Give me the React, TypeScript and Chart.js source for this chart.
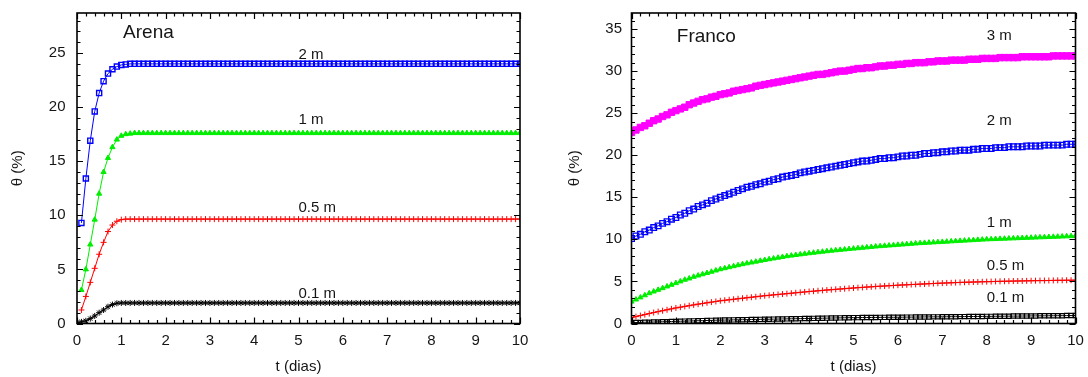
import React, { useEffect, useRef } from "react";
import { Chart, registerables } from "chart.js";
Chart.register(...registerables);

// time axis (dias)
const T = [
  0, 0.1, 0.2, 0.3, 0.4, 0.5, 0.6, 0.7, 0.8, 0.9,
  1, 1.1, 1.2, 1.3, 1.4, 1.5, 1.6, 1.7, 1.8, 1.9,
  2, 2.1, 2.2, 2.3, 2.4, 2.5, 2.6, 2.7, 2.8, 2.9,
  3, 3.1, 3.2, 3.3, 3.4, 3.5, 3.6, 3.7, 3.8, 3.9,
  4, 4.1, 4.2, 4.3, 4.4, 4.5, 4.6, 4.7, 4.8, 4.9,
  5, 5.1, 5.2, 5.3, 5.4, 5.5, 5.6, 5.7, 5.8, 5.9,
  6, 6.1, 6.2, 6.3, 6.4, 6.5, 6.6, 6.7, 6.8, 6.9,
  7, 7.1, 7.2, 7.3, 7.4, 7.5, 7.6, 7.7, 7.8, 7.9,
  8, 8.1, 8.2, 8.3, 8.4, 8.5, 8.6, 8.7, 8.8, 8.9,
  9, 9.1, 9.2, 9.3, 9.4, 9.5, 9.6, 9.7, 9.8, 9.9,
  10,
];

const xTicks = [0, 1, 2, 3, 4, 5, 6, 7, 8, 9, 10];
const arenaYTicks = [0, 5, 10, 15, 20, 25];
const francoYTicks = [0, 5, 10, 15, 20, 25, 30, 35];

// ---------- Arena ----------
const arena2m = [
  null, 9.3, 13.4, 16.9, 19.6, 21.3, 22.4, 23.1, 23.5, 23.75,
  23.9, 23.95, 24, 24, 24, 24, 24, 24, 24, 24,
  24, 24, 24, 24, 24, 24, 24, 24, 24, 24,
  24, 24, 24, 24, 24, 24, 24, 24, 24, 24,
  24, 24, 24, 24, 24, 24, 24, 24, 24, 24,
  24, 24, 24, 24, 24, 24, 24, 24, 24, 24,
  24, 24, 24, 24, 24, 24, 24, 24, 24, 24,
  24, 24, 24, 24, 24, 24, 24, 24, 24, 24,
  24, 24, 24, 24, 24, 24, 24, 24, 24, 24,
  24, 24, 24, 24, 24, 24, 24, 24, 24, 24,
  24,
];
const arena1m = [
  null, 3.1, 5.0, 7.3, 9.6, 12.0, 14.0, 15.3, 16.3, 17.0,
  17.35, 17.5, 17.55, 17.6, 17.6, 17.6, 17.6, 17.6, 17.6, 17.6,
  17.6, 17.6, 17.6, 17.6, 17.6, 17.6, 17.6, 17.6, 17.6, 17.6,
  17.6, 17.6, 17.6, 17.6, 17.6, 17.6, 17.6, 17.6, 17.6, 17.6,
  17.6, 17.6, 17.6, 17.6, 17.6, 17.6, 17.6, 17.6, 17.6, 17.6,
  17.6, 17.6, 17.6, 17.6, 17.6, 17.6, 17.6, 17.6, 17.6, 17.6,
  17.6, 17.6, 17.6, 17.6, 17.6, 17.6, 17.6, 17.6, 17.6, 17.6,
  17.6, 17.6, 17.6, 17.6, 17.6, 17.6, 17.6, 17.6, 17.6, 17.6,
  17.6, 17.6, 17.6, 17.6, 17.6, 17.6, 17.6, 17.6, 17.6, 17.6,
  17.6, 17.6, 17.6, 17.6, 17.6, 17.6, 17.6, 17.6, 17.6, 17.6,
  17.6,
];
const arena05m = [
  null, 1.25, 2.5, 3.8, 5.1, 6.4, 7.5, 8.5, 9.1, 9.45,
  9.6, 9.65, 9.65, 9.65, 9.65, 9.65, 9.65, 9.65, 9.65, 9.65,
  9.65, 9.65, 9.65, 9.65, 9.65, 9.65, 9.65, 9.65, 9.65, 9.65,
  9.65, 9.65, 9.65, 9.65, 9.65, 9.65, 9.65, 9.65, 9.65, 9.65,
  9.65, 9.65, 9.65, 9.65, 9.65, 9.65, 9.65, 9.65, 9.65, 9.65,
  9.65, 9.65, 9.65, 9.65, 9.65, 9.65, 9.65, 9.65, 9.65, 9.65,
  9.65, 9.65, 9.65, 9.65, 9.65, 9.65, 9.65, 9.65, 9.65, 9.65,
  9.65, 9.65, 9.65, 9.65, 9.65, 9.65, 9.65, 9.65, 9.65, 9.65,
  9.65, 9.65, 9.65, 9.65, 9.65, 9.65, 9.65, 9.65, 9.65, 9.65,
  9.65, 9.65, 9.65, 9.65, 9.65, 9.65, 9.65, 9.65, 9.65, 9.65,
  9.65,
];
const arena01m = [
  0.1, 0.15, 0.25, 0.45, 0.7, 1.0, 1.25, 1.55, 1.75, 1.87,
  1.9, 1.9, 1.9, 1.9, 1.9, 1.9, 1.9, 1.9, 1.9, 1.9,
  1.9, 1.9, 1.9, 1.9, 1.9, 1.9, 1.9, 1.9, 1.9, 1.9,
  1.9, 1.9, 1.9, 1.9, 1.9, 1.9, 1.9, 1.9, 1.9, 1.9,
  1.9, 1.9, 1.9, 1.9, 1.9, 1.9, 1.9, 1.9, 1.9, 1.9,
  1.9, 1.9, 1.9, 1.9, 1.9, 1.9, 1.9, 1.9, 1.9, 1.9,
  1.9, 1.9, 1.9, 1.9, 1.9, 1.9, 1.9, 1.9, 1.9, 1.9,
  1.9, 1.9, 1.9, 1.9, 1.9, 1.9, 1.9, 1.9, 1.9, 1.9,
  1.9, 1.9, 1.9, 1.9, 1.9, 1.9, 1.9, 1.9, 1.9, 1.9,
  1.9, 1.9, 1.9, 1.9, 1.9, 1.9, 1.9, 1.9, 1.9, 1.9,
  1.9,
];

// ---------- Franco ----------
const franco3m = [
  22.7, 23.0, 23.3, 23.5, 23.8, 24.1, 24.3, 24.6, 24.8, 25.1,
  25.3, 25.5, 25.7, 26.0, 26.2, 26.4, 26.6, 26.7, 26.9, 27.0,
  27.2, 27.3, 27.4, 27.6, 27.7, 27.8, 27.9, 28.0, 28.2, 28.3,
  28.4, 28.5, 28.6, 28.7, 28.8, 28.9, 29.0, 29.1, 29.2, 29.3,
  29.4, 29.5, 29.6, 29.6, 29.7, 29.8, 29.9, 30.0, 30.0, 30.1,
  30.2, 30.3, 30.3, 30.4, 30.4, 30.5, 30.6, 30.6, 30.7, 30.7,
  30.8, 30.8, 30.9, 30.9, 31.0, 31.0, 31.0, 31.1, 31.1, 31.2,
  31.2, 31.2, 31.3, 31.3, 31.3, 31.3, 31.4, 31.4, 31.4, 31.5,
  31.5, 31.5, 31.5, 31.6, 31.6, 31.6, 31.6, 31.6, 31.7, 31.7,
  31.7, 31.7, 31.7, 31.7, 31.7, 31.8, 31.8, 31.8, 31.8, 31.8,
  31.8,
];
const franco2m = [
  10.1, 10.4, 10.6, 10.9, 11.1, 11.4, 11.6, 11.9, 12.1, 12.4,
  12.6, 12.9, 13.1, 13.4, 13.6, 13.9, 14.1, 14.3, 14.6, 14.8,
  15.0, 15.2, 15.4, 15.6, 15.8, 16.0, 16.2, 16.3, 16.5, 16.6,
  16.8, 16.9, 17.1, 17.2, 17.4, 17.5, 17.6, 17.7, 17.9, 18.0,
  18.1, 18.2, 18.3, 18.4, 18.5, 18.6, 18.7, 18.8, 18.9, 19.0,
  19.1, 19.2, 19.3, 19.3, 19.4, 19.5, 19.6, 19.6, 19.7, 19.7,
  19.8, 19.9, 19.9, 20.0, 20.0, 20.1, 20.2, 20.2, 20.3, 20.3,
  20.4, 20.4, 20.5, 20.5, 20.6, 20.6, 20.6, 20.7, 20.7, 20.8,
  20.8, 20.8, 20.9, 20.9, 20.9, 21.0, 21.0, 21.0, 21.0, 21.1,
  21.1, 21.1, 21.1, 21.2, 21.2, 21.2, 21.2, 21.2, 21.3, 21.3,
  21.3,
];
const franco1m = [
  2.6, 2.85, 3.1, 3.35, 3.6, 3.8, 4.0, 4.2, 4.4, 4.6,
  4.8, 5.0, 5.2, 5.35, 5.55, 5.7, 5.85, 6.0, 6.15, 6.3,
  6.45, 6.57, 6.69, 6.81, 6.93, 7.05, 7.15, 7.25, 7.35, 7.45,
  7.55, 7.64, 7.73, 7.82, 7.91, 8.0, 8.07, 8.14, 8.21, 8.28,
  8.35, 8.41, 8.47, 8.53, 8.59, 8.65, 8.7, 8.75, 8.8, 8.85,
  8.9, 8.95, 9.0, 9.05, 9.1, 9.15, 9.19, 9.23, 9.27, 9.31,
  9.35, 9.39, 9.43, 9.47, 9.51, 9.55, 9.58, 9.61, 9.64, 9.67,
  9.7, 9.73, 9.76, 9.79, 9.82, 9.85, 9.88, 9.91, 9.94, 9.97,
  10.0, 10.02, 10.04, 10.06, 10.08, 10.1, 10.12, 10.14, 10.16, 10.18,
  10.2, 10.22, 10.24, 10.26, 10.28, 10.3, 10.32, 10.34, 10.36, 10.38,
  10.4,
];
const franco05m = [
  0.7, 0.82, 0.94, 1.06, 1.18, 1.3, 1.41, 1.52, 1.63, 1.74,
  1.85, 1.94, 2.03, 2.12, 2.21, 2.3, 2.38, 2.46, 2.54, 2.62,
  2.7, 2.76, 2.82, 2.88, 2.94, 3.0, 3.06, 3.12, 3.18, 3.24,
  3.3, 3.35, 3.4, 3.45, 3.5, 3.55, 3.6, 3.65, 3.7, 3.75,
  3.8, 3.84, 3.89, 3.93, 3.98, 4.02, 4.06, 4.1, 4.14, 4.18,
  4.22, 4.26, 4.29, 4.33, 4.36, 4.4, 4.43, 4.46, 4.49, 4.52,
  4.55, 4.58, 4.6, 4.63, 4.65, 4.68, 4.7, 4.73, 4.75, 4.78,
  4.8, 4.82, 4.84, 4.86, 4.88, 4.9, 4.91, 4.93, 4.94, 4.96,
  4.97, 4.98, 5.0, 5.01, 5.02, 5.03, 5.04, 5.05, 5.06, 5.07,
  5.08, 5.09, 5.1, 5.1, 5.11, 5.12, 5.13, 5.13, 5.14, 5.14,
  5.15,
];
const franco01m = [
  0.1, 0.12, 0.13, 0.15, 0.16, 0.18, 0.19, 0.21, 0.22, 0.24,
  0.25, 0.27, 0.28, 0.3, 0.31, 0.33, 0.34, 0.36, 0.37, 0.39,
  0.4, 0.41, 0.42, 0.43, 0.44, 0.45, 0.46, 0.47, 0.48, 0.49,
  0.5, 0.51, 0.52, 0.53, 0.54, 0.55, 0.56, 0.57, 0.58, 0.59,
  0.6, 0.61, 0.62, 0.63, 0.64, 0.65, 0.66, 0.67, 0.68, 0.69,
  0.7, 0.7, 0.71, 0.71, 0.72, 0.72, 0.73, 0.73, 0.74, 0.74,
  0.75, 0.75, 0.76, 0.76, 0.77, 0.77, 0.78, 0.78, 0.79, 0.79,
  0.8, 0.8, 0.81, 0.81, 0.82, 0.82, 0.83, 0.83, 0.84, 0.84,
  0.85, 0.85, 0.86, 0.86, 0.87, 0.87, 0.88, 0.88, 0.89, 0.89,
  0.9, 0.9, 0.91, 0.91, 0.92, 0.92, 0.93, 0.93, 0.94, 0.94,
  0.95,
];

// text annotations (anchored in data units)
const arenaCurveLabels = [
  { text: "2 m", x: 5, y: 24.8 },
  { text: "1 m", x: 5, y: 18.8 },
  { text: "0.5 m", x: 5, y: 10.7 },
  { text: "0.1 m", x: 5, y: 2.75 },
];
const francoCurveLabels = [
  { text: "3 m", x: 8, y: 34.2 },
  { text: "2 m", x: 8, y: 24.1 },
  { text: "1 m", x: 8, y: 12.0 },
  { text: "0.5 m", x: 8, y: 6.85 },
  { text: "0.1 m", x: 8, y: 3.1 },
];

const FONT = "'Liberation Sans', Arial, Helvetica, sans-serif";
const TEXT = "#151515";

const framePlugin = {
  id: "frame",
  afterDatasetsDraw(chart: any, _a: any, opts: any) {
    const { ctx, chartArea: a, scales } = chart;
    const xs = scales.x, ys = scales.y;
    ctx.save();
    ctx.strokeStyle = "#000";
    ctx.lineWidth = 1.2;
    ctx.beginPath();
    const nx = Math.round((xs.max - xs.min) / opts.xMinor);
    for (let k = 0; k <= nx; k++) {
      const v = xs.min + k * opts.xMinor;
      const px = Math.round(xs.getPixelForValue(v)) + 0.5;
      const len = k % 5 === 0 ? 6 : 3.5;
      ctx.moveTo(px, a.bottom);
      ctx.lineTo(px, a.bottom - len);
      ctx.moveTo(px, a.top);
      ctx.lineTo(px, a.top + len);
    }
    const ny = Math.floor((ys.max - ys.min) / opts.yMinor + 1e-6);
    for (let k = 0; k <= ny; k++) {
      const v = ys.min + k * opts.yMinor;
      const py = Math.round(ys.getPixelForValue(v)) + 0.5;
      const len = k % 5 === 0 ? 6 : 3.5;
      ctx.moveTo(a.left, py);
      ctx.lineTo(a.left + len, py);
      ctx.moveTo(a.right, py);
      ctx.lineTo(a.right - len, py);
    }
    ctx.stroke();
    ctx.lineWidth = 1.6;
    ctx.strokeRect(a.left, a.top, a.right - a.left, a.bottom - a.top);
    ctx.restore();
  },
  afterDraw(chart: any, _a: any, opts: any) {
    const { ctx, scales } = chart;
    const xs = scales.x, ys = scales.y;
    ctx.save();
    ctx.fillStyle = TEXT;
    ctx.textBaseline = "middle";
    ctx.textAlign = "left";
    ctx.font = `19px ${FONT}`;
    ctx.fillText(opts.title.text, xs.getPixelForValue(opts.title.x), ys.getPixelForValue(opts.title.y));
    ctx.font = `15px ${FONT}`;
    for (const l of opts.labels) {
      ctx.fillText(l.text, xs.getPixelForValue(l.x), ys.getPixelForValue(l.y));
    }
    ctx.restore();
  },
};

function ds(label: string, values: (number | null)[], color: string, style: string, radius: number, filled: boolean, pbw = 1) {
  return {
    label,
    data: T.map((t, i) => ({ x: t, y: values[i] })),
    borderColor: color,
    backgroundColor: filled ? color : "rgba(0,0,0,0)",
    pointBorderColor: color,
    pointBackgroundColor: filled ? color : "rgba(0,0,0,0)",
    pointStyle: style,
    pointRadius: radius,
    pointBorderWidth: pbw,
    borderWidth: 1,
    showLine: true,
    tension: 0,
    fill: false,
  };
}

function makeOptions(p: any) {
  return {
    responsive: false,
    animation: false,
    devicePixelRatio: 1,
    events: [],
    layout: { padding: { top: 13, right: p.padRight, left: 0, bottom: 0 } },
    plugins: {
      legend: { display: false },
      tooltip: { enabled: false },
      frame: { xMinor: 0.2, yMinor: 1, title: p.title, labels: p.labels },
    },
    scales: {
      x: {
        type: "linear",
        min: 0,
        max: 10,
        afterBuildTicks: (s: any) => { s.ticks = xTicks.map((v) => ({ value: v })); },
        afterFit: (s: any) => { s.height = 53.5; s.paddingLeft = 0; s.paddingRight = 0; },
        grid: { display: false, drawTicks: false },
        border: { display: false },
        ticks: { padding: 8, color: TEXT, font: { family: FONT, size: 15 }, maxRotation: 0 },
        title: { display: true, text: "t (dias)", color: TEXT, font: { family: FONT, size: 15 }, padding: { top: 0, bottom: 1 } },
      },
      y: {
        type: "linear",
        min: 0,
        max: p.yMax,
        afterBuildTicks: (s: any) => { s.ticks = p.yTicks.map((v: number) => ({ value: v })); },
        afterFit: (s: any) => { s.width = p.yWidth; s.paddingTop = 0; s.paddingBottom = 0; },
        grid: { display: false, drawTicks: false },
        border: { display: false },
        ticks: { padding: p.yPad, color: TEXT, font: { family: FONT, size: 15 } },
        title: { display: true, text: "θ (%)", color: TEXT, font: { family: FONT, size: 15 }, padding: { top: p.yTitlePad, bottom: 0 } },
      },
    },
  };
}

function Panel(props: { left: number; build: () => any }) {
  const ref = useRef<HTMLCanvasElement | null>(null);
  useEffect(() => {
    if (!ref.current) return;
    const chart = new Chart(ref.current, props.build());
    return () => chart.destroy();
  }, []);
  return (
    <canvas
      ref={ref}
      width={544}
      height={377}
      style={{ position: "absolute", left: props.left, top: 0, width: 544, height: 377 }}
    />
  );
}

const buildArena = () => ({
  type: "line",
  data: {
    datasets: [
      ds("2 m", arena2m, "#0000ff", "rect", 3.6, false, 1.4),
      ds("1 m", arena1m, "#00ee00", "triangle", 3, true),
      ds("0.5 m", arena05m, "#ff0000", "cross", 3, false),
      ds("0.1 m", arena01m, "#000000", "star", 3, false),
    ],
  },
  options: makeOptions({
    padRight: 24,
    yMax: 28.7,
    yTicks: arenaYTicks,
    yWidth: 77,
    yPad: 11.5,
    yTitlePad: 9,
    title: { text: "Arena", x: 1.04, y: 26.9 },
    labels: arenaCurveLabels,
  }),
  plugins: [framePlugin],
});

const buildFranco = () => ({
  type: "line",
  data: {
    datasets: [
      ds("3 m", franco3m, "#ff00ff", "rect", 4.5, true),
      ds("2 m", franco2m, "#0000ff", "rect", 4, false, 1.3),
      ds("1 m", franco1m, "#00ee00", "triangle", 3, true),
      ds("0.5 m", franco05m, "#ff0000", "cross", 3, false),
      ds("0.1 m", franco01m, "#000000", "rect", 3, false, 1.2),
    ],
  },
  options: makeOptions({
    padRight: 12.5,
    yMax: 36.9,
    yTicks: francoYTicks,
    yWidth: 87.5,
    yPad: 9.5,
    yTitlePad: 22,
    title: { text: "Franco", x: 1.02, y: 34.1 },
    labels: francoCurveLabels,
  }),
  plugins: [framePlugin],
});

export default function App() {
  return (
    <div style={{ position: "absolute", left: 0, top: 0, width: 1088, height: 377, background: "#fff" }}>
      <Panel left={0} build={buildArena} />
      <Panel left={544} build={buildFranco} />
    </div>
  );
}
